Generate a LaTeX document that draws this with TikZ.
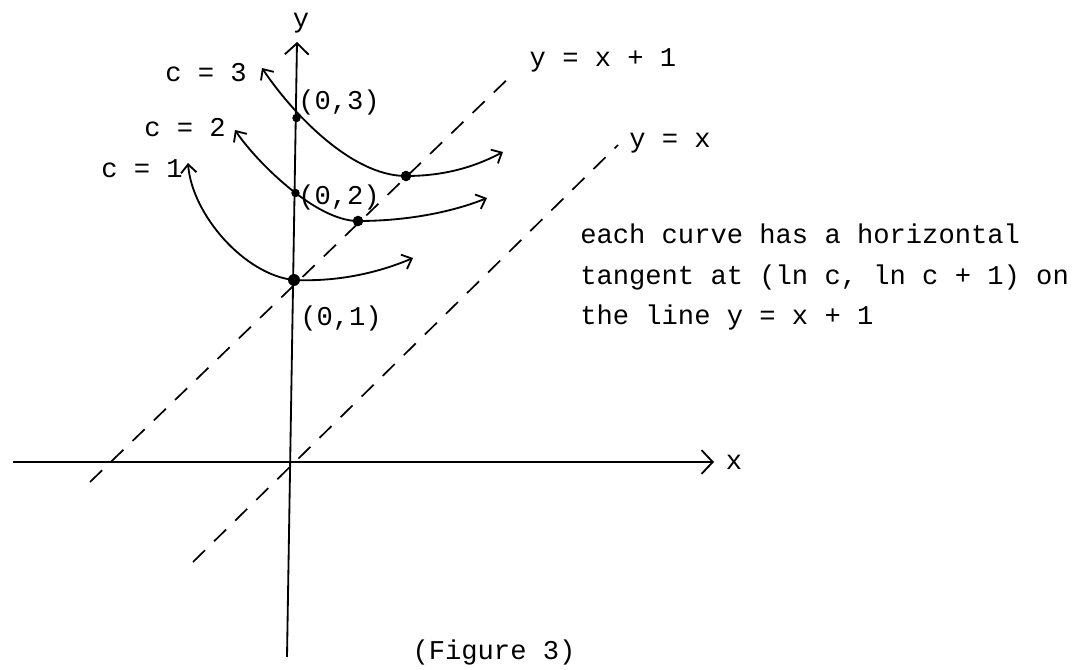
\documentclass[tikz,border=0pt]{standalone}
\usepackage{fontspec}
\usepackage{tikz}
\usetikzlibrary{arrows.meta}
\newfontfamily\typew{Liberation Mono}

\begin{document}
\begin{tikzpicture}[x=0.025cm, y=-0.025cm,
    font=\typew\fontsize{19.3}{29}\selectfont,
    axis/.style={line width=1.3pt, -{Straight Barb[length=8pt, width=17pt]}},
    curve/.style={line width=1.3pt,
                  {Straight Barb[length=6pt, width=11pt]}-{Straight Barb[length=6pt, width=11pt]}},
    guide/.style={line width=1.2pt, dash pattern=on 12pt off 9pt},
    dot/.style={circle, fill=black, inner sep=0pt, minimum size=#1},
    dot/.default=7.5pt,
    lbl/.style={inner sep=0pt}]
  \useasboundingbox (0,0) rectangle (1081,670);
  % axes
  \coordinate (xl) at (13,462);
  \coordinate (xr) at (714,462);
  \coordinate (yb) at (287,657);
  \coordinate (yt) at (297,42);
  \draw[axis] (xl) -- (xr);
  \draw[axis] (yb) -- (yt);
  \node[lbl] (ylab) at (301,23) {y};
  \node[lbl] (xlab) at (734,462) {x};
  % dashed lines y = x+1 and y = x
  \coordinate (pa) at (90,482);
  \coordinate (pb) at (515,72);
  \coordinate (qa) at (193,562);
  \coordinate (qb) at (618,145);
  \draw[guide] (pa) -- (pb);
  \draw[guide] (qa) -- (qb);
  \node[lbl] (lab1) at (603,60) {y = x + 1};
  \node[lbl] (lab0) at (670,143) {y = x};
  % points on the y axis and the minima
  \node[dot=6pt] (a3) at (296.5,118) {};
  \node[dot=6pt] (a2) at (295.5,193) {};
  \node[dot=8.5pt] (a1) at (294,280) {};
  \node[dot] (m3) at (406,176) {};
  \node[dot] (m2) at (358,221) {};
  % ends of the curves
  \coordinate (s3) at (262,68);
  \coordinate (e3) at (503,152);
  \coordinate (s2) at (235,130);
  \coordinate (e2) at (487,198);
  \coordinate (s1) at (188,163);
  \coordinate (e1) at (413,258);
  \draw[curve] (s3) .. controls (290,110) and (350,176) .. (m3.center)
                    .. controls (450,176) and (480,164) .. (e3);
  \draw[curve] (s2) .. controls (255,160) and (315,221) .. (m2.center)
                    .. controls (410,221) and (455,211) .. (e2);
  \draw[curve] (s1) .. controls (192,215) and (245,275) .. (a1.center)
                    .. controls (340,282) and (380,272) .. (e1);
  % labels
  \node[lbl] (c3) at (206,73) {c = 3};
  \node[lbl] (c2) at (185,128) {c = 2};
  \node[lbl] (c1) at (142,169) {c = 1};
  \node[lbl] (p3) at (339,102) {(0,3)};
  \node[lbl] (p2) at (339,197) {(0,2)};
  \node[lbl] (p1) at (341,318) {(0,1)};
  \node[lbl, align=left, anchor=west] (note) at (580,277)
      {each curve has a horizontal\\
       tangent at (ln c, ln c + 1) on\\
       the line y = x + 1};
  \node[lbl] (fig) at (494,652) {(Figure 3)};
\end{tikzpicture}
\end{document}
